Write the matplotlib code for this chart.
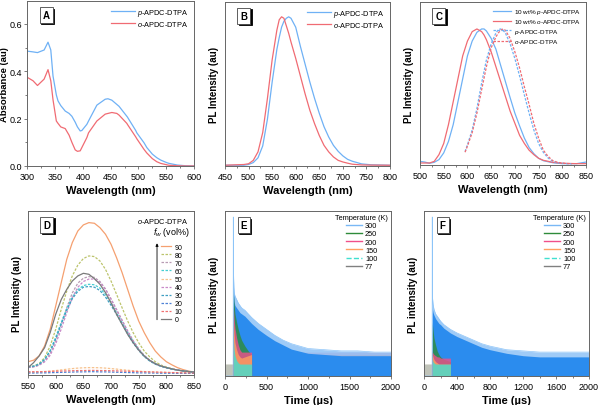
import numpy as np
import matplotlib
matplotlib.use('Agg')
import matplotlib.pyplot as plt
from matplotlib.transforms import offset_copy

plt.rcParams['font.family'] = ['Liberation Sans', 'DejaVu Sans']
plt.rcParams['mathtext.fontset'] = 'custom'
plt.rcParams['mathtext.it'] = 'Liberation Sans:italic'
plt.rcParams['mathtext.rm'] = 'Liberation Sans'

# ---- A: absorbance ----
wl_a = [300, 310, 318, 330, 337, 342, 346, 352, 355, 360, 368, 375, 380, 386, 390, 395, 398, 407, 410, 425, 440, 445, 452, 461, 465, 479, 480, 495, 497, 510, 515, 525, 533, 540, 551, 555, 570, 585, 600]
abs_p = [0.485, 0.482, 0.479, 0.49, 0.523, 0.49, 0.38, 0.30, 0.275, 0.255, 0.232, 0.222, 0.21, 0.185, 0.165, 0.148, 0.15, 0.176, 0.19, 0.257, 0.282, 0.284, 0.278, 0.26, 0.252, 0.21, 0.207, 0.15, 0.14, 0.098, 0.078, 0.05, 0.035, 0.025, 0.014, 0.011, 0.004, 0.001, 0.0]
abs_o = [0.374, 0.36, 0.34, 0.367, 0.407, 0.36, 0.28, 0.19, 0.18, 0.165, 0.158, 0.13, 0.1, 0.068, 0.062, 0.064, 0.078, 0.12, 0.14, 0.19, 0.219, 0.222, 0.226, 0.222, 0.215, 0.18, 0.176, 0.123, 0.115, 0.07, 0.055, 0.031, 0.018, 0.011, 0.005, 0.003, 0.001, 0.0, 0.0]

# ---- B: PL in solution ----
wl_b = [450, 490, 500, 510, 520, 530, 540, 550, 560, 565, 570, 575, 580, 585, 590, 600, 610, 620, 630, 640, 650, 660, 670, 680, 690, 700, 710, 720, 740, 760, 800]
pl_b_p = [0.0, 0.0, 0.005, 0.018, 0.05, 0.13, 0.31, 0.56, 0.78, 0.86, 0.93, 0.97, 0.99, 1.0, 0.99, 0.93, 0.80, 0.68, 0.56, 0.45, 0.35, 0.26, 0.19, 0.134, 0.094, 0.063, 0.04, 0.027, 0.009, 0.003, 0.0]
pl_b_o = [0.0, 0.005, 0.01, 0.033, 0.09, 0.22, 0.45, 0.71, 0.91, 0.98, 1.0, 0.99, 0.94, 0.89, 0.83, 0.72, 0.60, 0.48, 0.37, 0.28, 0.20, 0.134, 0.09, 0.056, 0.033, 0.022, 0.014, 0.007, 0.002, 0.001, 0.0]

# ---- C: PL of films ----
wl_c = [500, 510, 520, 530, 540, 550, 560, 570, 580, 590, 600, 610, 620, 630, 635, 640, 650, 660, 670, 680, 690, 700, 710, 720, 730, 740, 750, 760, 780, 800, 830, 850]
pl_c_p10 = [0.017, 0.012, 0.003, 0.01, 0.03, 0.08, 0.165, 0.29, 0.46, 0.63, 0.80, 0.91, 0.975, 1.0, 1.0, 0.985, 0.93, 0.85, 0.73, 0.61, 0.49, 0.375, 0.28, 0.19, 0.12, 0.074, 0.04, 0.022, 0.007, 0.0, 0.0, 0.012]
pl_c_o10 = [0.005, 0.005, 0.005, 0.017, 0.067, 0.15, 0.29, 0.46, 0.63, 0.80, 0.91, 0.98, 1.0, 0.98, 0.955, 0.92, 0.83, 0.72, 0.61, 0.50, 0.39, 0.30, 0.21, 0.15, 0.10, 0.067, 0.04, 0.025, 0.01, 0.003, 0.0, 0.0]
wl_c2 = [595, 600, 610, 620, 630, 640, 650, 660, 665, 670, 675, 680, 690, 700, 710, 720, 730, 740, 750, 760, 770, 780, 790, 800, 810, 820]
pl_c_p = [0.09, 0.14, 0.25, 0.41, 0.60, 0.77, 0.89, 0.97, 0.995, 1.0, 0.99, 0.97, 0.89, 0.78, 0.65, 0.51, 0.375, 0.25, 0.15, 0.084, 0.042, 0.017, 0.007, 0.003, 0.0, 0.0]
pl_c_o = [0.085, 0.13, 0.23, 0.375, 0.55, 0.72, 0.86, 0.94, 0.97, 0.99, 1.0, 0.99, 0.93, 0.83, 0.71, 0.57, 0.44, 0.30, 0.19, 0.10, 0.054, 0.022, 0.01, 0.004, 0.001, 0.0]

# ---- D: AIE, water fraction ----
wl_d = [550, 560, 570, 580, 590, 600, 610, 620, 630, 640, 650, 660, 670, 680, 690, 700, 710, 720, 730, 740, 750, 760, 770, 780, 790, 800, 810, 820, 830, 840, 850]
fw_labels = ['90', '80', '70', '60', '50', '40', '30', '20', '10', '0']
fw90 = [8.1, 9, 11.6, 17.7, 27.8, 42, 56.3, 70.5, 80.7, 87.8, 91.5, 92.9, 92.5, 89.8, 85.8, 79.7, 71.5, 62.4, 52.2, 42, 32.9, 25.8, 19.7, 14.6, 11, 8.1, 6.2, 4.5, 3.3, 2.4, 1.8]
fw80 = [4.9, 5.5, 7, 10.6, 17.7, 27.8, 40, 51.2, 60.4, 67, 71, 72.6, 72.2, 69.5, 64.4, 57.3, 49.2, 41, 33, 25.8, 19.7, 14.6, 11, 8.1, 6.1, 4.9, 3.9, 3, 2.4, 2, 1.8]
fw70 = [4.5, 5, 6, 8.5, 13, 21, 31, 41, 50, 56, 59, 60, 59.5, 57, 52.5, 46.5, 40, 33.5, 27, 21, 16, 12, 9, 7, 5.5, 4.5, 3.7, 3, 2.5, 2.1, 1.8]
fw60 = [4.9, 5.3, 6.5, 9.5, 15, 23, 32, 40.5, 47.5, 52, 54.5, 55.3, 55, 53, 49, 44, 38, 32, 26, 20.5, 15.5, 11.5, 8.8, 6.8, 5.4, 4.5, 3.7, 3, 2.5, 2.1, 1.8]
fw50 = [1.5, 1.6, 1.8, 2, 2.3, 2.7, 3.1, 3.5, 3.9, 4.2, 4.4, 4.5, 4.5, 4.4, 4.2, 3.9, 3.6, 3.2, 2.9, 2.6, 2.3, 2.1, 1.9, 1.7, 1.6, 1.5, 1.4, 1.3, 1.3, 1.2, 1.2]
fw40 = [4.5, 5, 6, 8, 12, 19, 28, 38, 47, 53.5, 57, 58.5, 58.5, 56.5, 52, 46, 39.5, 33, 26.5, 20.5, 15.5, 11.5, 8.8, 6.8, 5.4, 4.5, 3.7, 3, 2.5, 2.1, 1.8]
fw30 = [4.9, 5.3, 6.5, 9.5, 14.5, 22, 31, 39.5, 46.5, 51, 53.5, 54, 53.5, 51.5, 47.5, 42.5, 37, 31, 25, 19.5, 15, 11.2, 8.5, 6.6, 5.3, 4.4, 3.6, 3, 2.5, 2.1, 1.8]
fw20 = [1.2, 1.2, 1.3, 1.3, 1.4, 1.5, 1.6, 1.7, 1.8, 1.9, 1.9, 2.0, 2.0, 1.9, 1.9, 1.8, 1.7, 1.6, 1.5, 1.4, 1.3, 1.3, 1.2, 1.2, 1.1, 1.1, 1.1, 1.0, 1.0, 1.0, 1.0]
fw10 = [2.0, 2.0, 2.0, 2.1, 2.2, 2.3, 2.4, 2.5, 2.6, 2.7, 2.7, 2.8, 2.8, 2.7, 2.7, 2.6, 2.5, 2.4, 2.3, 2.2, 2.1, 2.0, 1.9, 1.8, 1.7, 1.6, 1.5, 1.4, 1.3, 1.3, 1.2]
fw0 = [4.5, 7.5, 11.6, 16.7, 25.8, 37, 46, 52.2, 57.3, 60.4, 62, 61.4, 58.7, 55.3, 50.2, 44, 37, 30.9, 24.8, 19.7, 15.2, 11.6, 8.9, 6.9, 5.5, 4.5, 3.7, 3, 2.5, 2.1, 1.8]

# ---- E, F: decays (counts) ----
temps = ['300', '250', '200', '150', '100', '77']
t_dec = [0, 90, 98, 100, 102, 110, 120, 140, 160, 180, 200, 240, 280, 320, 400, 500, 600, 700, 800, 1000, 1200, 1400, 1600, 1800, 2000]
E300_solid = [0, 0, 0, 13.3, 7.5, 6.2, 5.9, 5.7, 5.5, 5.3, 5.2, 5.0, 4.7, 4.4, 3.9, 3.4, 2.95, 2.6, 2.25, 1.9, 1.8, 1.7, 1.7, 1.7, 1.7]
E300_peak = [0, 0, 0, 13.3, 8.5, 7.0, 6.7, 6.4, 6.1, 5.9, 5.7, 5.5, 5.2, 4.9, 4.4, 3.9, 3.4, 3.0, 2.7, 2.3, 2.2, 2.1, 2.1, 2.0, 2.0]
E250 = [1, 1, 1, 7.8, 6.8, 6.0, 5.2, 4.5, 3.9, 3.4, 3.0, 2.5, 2.1, 1.8, 1.5, 1.3, 1.2, 1.2, 1.1, 1.1, 1.1, 1.1, 1.1, 1.1, 1.1]
E200 = [1, 1, 1, 5.8, 5.6, 4.8, 4.0, 3.2, 2.6, 2.2, 2.0, 2.0, 2.0, 2.0, 2.0, 2.0, 2.0, 2.0, 2.0, 2.0, 2.0, 2.0, 2.0, 2.0, 2.0]
E150 = [1, 1, 1, 4.8, 4.5, 3.5, 2.8, 2.2, 1.8, 1.6, 1.5, 1.6, 1.7, 1.8, 1.8, 1.8, 1.8, 1.8, 1.8, 1.8, 1.8, 1.8, 1.8, 1.8, 1.8]
E100 = [1, 1, 1, 3.5, 3.0, 2.2, 1.7, 1.3, 1.1, 1.0, 1.0, 1.0, 1.0, 1.0, 1.0, 1.0, 1.0, 1.0, 1.0, 1.0, 1.0, 1.0, 1.0, 1.0, 1.0]
E77 = [1, 1, 1, 4.0, 3.5, 2.6, 2.0, 1.6, 1.4, 1.3, 1.3, 1.3, 1.3, 1.3, 1.3, 1.3, 1.3, 1.3, 1.3, 1.3, 1.3, 1.3, 1.3, 1.3, 1.3]
F300_solid = [0, 0, 0, 13.3, 5.6, 5.3, 5.1, 4.8, 4.6, 4.4, 4.3, 4.0, 3.8, 3.6, 3.3, 3.0, 2.7, 2.4, 2.2, 1.9, 1.7, 1.6, 1.6, 1.6, 1.6]
F300_peak = [0, 0, 0, 13.3, 6.6, 6.0, 5.6, 5.2, 5.0, 4.8, 4.6, 4.3, 4.1, 3.9, 3.6, 3.3, 3.0, 2.7, 2.5, 2.2, 2.1, 2.0, 2.0, 2.0, 2.0]
F250 = [1, 1, 1, 4.5, 4.3, 3.8, 3.2, 2.6, 2.1, 1.8, 1.6, 1.4, 1.3, 1.2, 1.2, 1.2, 1.2, 1.2, 1.2, 1.2, 1.2, 1.2, 1.2, 1.2, 1.2]
F200 = [1, 1, 1, 2.2, 2.0, 1.9, 1.8, 1.7, 1.6, 1.6, 1.5, 1.5, 1.5, 1.5, 1.5, 1.5, 1.5, 1.5, 1.5, 1.5, 1.5, 1.5, 1.5, 1.5, 1.5]
F150 = [1, 1, 1, 2.0, 1.8, 1.6, 1.4, 1.2, 1.1, 1.0, 1.0, 1.0, 1.0, 1.0, 1.0, 1.0, 1.0, 1.0, 1.0, 1.0, 1.0, 1.0, 1.0, 1.0, 1.0]
F100 = [1, 1, 1, 1.6, 1.4, 1.2, 1.1, 1.0, 1.0, 1.0, 1.0, 1.0, 1.0, 1.0, 1.0, 1.0, 1.0, 1.0, 1.0, 1.0, 1.0, 1.0, 1.0, 1.0, 1.0]
F77 = [1, 1, 1, 2.0, 1.8, 1.5, 1.3, 1.2, 1.1, 1.0, 1.0, 1.0, 1.0, 1.0, 1.0, 1.0, 1.0, 1.0, 1.0, 1.0, 1.0, 1.0, 1.0, 1.0, 1.0]

blue = '#6fb1f5'
red = '#f06b73'
fw_colors = ['#f5a070', '#bcc46c', '#b89cb4', '#45cfd3', '#f7c28e', '#c98ac9', '#3f9fc2', '#4f82d6', '#f07272', '#7a7a7a']
t_colors = ['#2b8cee', '#2e8b3a', '#f0508a', '#ffa060', '#40e0d0', '#808080']
spine_c = '#666666'
ylab_size = 7

fig = plt.figure(figsize=(6, 4.06), dpi=100)
axA = fig.add_axes([0.0458, 0.5887, 0.2775, 0.4064])
axB = fig.add_axes([0.375, 0.5887, 0.275, 0.404])
axC = fig.add_axes([0.70, 0.5911, 0.2767, 0.4015])
axD = fig.add_axes([0.0467, 0.0739, 0.2767, 0.404])
axE = fig.add_axes([0.375, 0.0714, 0.2767, 0.4064])
axF = fig.add_axes([0.7067, 0.0714, 0.275, 0.4064])


def style(ax, letter):
    for s in ax.spines.values():
        s.set_color(spine_c)
        s.set_linewidth(0.7)
    ax.tick_params(which='both', direction='out', colors=spine_c, labelcolor='black',
                   labelsize=6.5, width=0.6, pad=1.5)
    ax.tick_params(which='major', length=2.5)
    ax.tick_params(which='minor', length=1.5)
    ax.xaxis.set_minor_locator(matplotlib.ticker.AutoMinorLocator(2))
    shadow = offset_copy(ax.transAxes, fig=fig, x=1.5, y=-1.5, units='dots')
    ax.text(0.113, 0.915, letter, transform=shadow, ha='center', va='center',
            fontsize=7, fontweight='bold', color='black',
            bbox=dict(boxstyle='square,pad=0.3', fc='black', ec='black', lw=0.6))
    ax.text(0.113, 0.915, letter, transform=ax.transAxes, ha='center', va='center',
            fontsize=7, fontweight='bold', color='black',
            bbox=dict(boxstyle='square,pad=0.3', fc='white', ec='#444444', lw=0.6))


# A
axA.plot(wl_a, abs_p, color=blue, lw=0.9, label=r'$p$-APDC-DTPA')
axA.plot(wl_a, abs_o, color=red, lw=0.9, label=r'$o$-APDC-DTPA')
axA.set_xlim(300, 600)
axA.set_ylim(0, 0.697)
axA.set_xticks([300, 350, 400, 450, 500, 550, 600])
axA.set_yticks([0.0, 0.2, 0.4, 0.6])
axA.yaxis.set_minor_locator(matplotlib.ticker.AutoMinorLocator(2))
axA.set_xlabel('Wavelength (nm)', fontsize=8, fontweight='bold', labelpad=3)
axA.set_ylabel('Absorbance (au)', fontsize=6.8, fontweight='bold')
axA.yaxis.set_label_coords(-0.108, 0.5)
axA.legend(loc='upper right', frameon=False, fontsize=5.3, handlelength=3.2,
           handletextpad=0.3, labelspacing=0.15, borderaxespad=0.4)
style(axA, 'A')
axA.tick_params(axis='y', pad=1)

# B
axB.plot(wl_b, pl_b_p, color=blue, lw=0.9, label=r'$p$-APDC-DTPA')
axB.plot(wl_b, pl_b_o, color=red, lw=0.9, label=r'$o$-APDC-DTPA')
axB.set_xlim(450, 800)
axB.set_ylim(-0.005, 1.1)
axB.set_xticks([450, 500, 550, 600, 650, 700, 750, 800])
axB.set_yticks([])
axB.set_xlabel('Wavelength (nm)', fontsize=8, fontweight='bold', labelpad=3)
axB.set_ylabel('PL Intensity (au)', fontsize=ylab_size, fontweight='bold', labelpad=4)
axB.legend(loc='upper right', frameon=False, fontsize=5.3, handlelength=3.2,
           handletextpad=0.3, labelspacing=0.15, borderaxespad=0.4)
style(axB, 'B')

# C
axC.plot(wl_c, pl_c_p10, color=blue, lw=0.9, label=r'10 wt% $p$-APDC-DTPA')
axC.plot(wl_c, pl_c_o10, color=red, lw=0.9, label=r'10 wt% $o$-APDC-DTPA')
axC.plot(wl_c2, pl_c_p, color=blue, lw=0.9, ls=(0, (2, 1.2)), label=r'$p$-APDC-DTPA')
axC.plot(wl_c2, pl_c_o, color=red, lw=0.9, ls=(0, (2, 1.2)), label=r'$o$-APDC-DTPA')
axC.set_xlim(500, 850)
axC.set_ylim(-0.01, 1.2)
axC.set_xticks([500, 550, 600, 650, 700, 750, 800, 850])
axC.set_yticks([])
axC.set_xlabel('Wavelength (nm)', fontsize=8, fontweight='bold', labelpad=3)
axC.set_ylabel('PL Intensity (au)', fontsize=ylab_size, fontweight='bold', labelpad=4)
axC.legend(loc='upper right', frameon=False, fontsize=4.6, handlelength=2.8,
           handletextpad=0.4, labelspacing=0.2, borderaxespad=0.4)
style(axC, 'C')

# D
fw_data = [fw90, fw80, fw70, fw60, fw50, fw40, fw30, fw20, fw10, fw0]
for lab, vals, c in zip(fw_labels, fw_data, fw_colors):
    ls = '-' if lab in ('90', '0') else (0, (2, 1.2))
    axD.plot(wl_d, vals, color=c, lw=0.9, ls=ls, label=lab)
axD.set_xlim(550, 850)
axD.set_ylim(0, 100)
axD.set_xticks([550, 600, 650, 700, 750, 800, 850])
axD.set_yticks([])
axD.set_xlabel('Wavelength (nm)', fontsize=8, fontweight='bold', labelpad=3)
axD.set_ylabel('PL Intensity (au)', fontsize=ylab_size, fontweight='bold', labelpad=4)
axD.legend(loc='upper left', bbox_to_anchor=(0.80, 0.80), frameon=False, fontsize=5,
           handlelength=1.5, handletextpad=0.5, labelspacing=0.15, borderaxespad=0, borderpad=0)
axD.text(0.965, 0.94, r'$o$-APDC-DTPA', transform=axD.transAxes, ha='right', va='center', fontsize=5.3)
axD.text(0.975, 0.873, r'$f_{w}$ (vol%)', transform=axD.transAxes, ha='right', va='center', fontsize=6.5)
axD.annotate('', xy=(0.777, 0.82), xytext=(0.777, 0.32), xycoords='axes fraction',
             arrowprops=dict(arrowstyle='-|>', lw=0.6, color='black', mutation_scale=4))
style(axD, 'D')


def decay(ax, solid, peak, others, xticks):
    t = np.array(t_dec)
    early = (t >= 100) & (t <= 320)
    # faint noise tint of the low-temperature traces
    for vals, c in zip(others, t_colors[1:]):
        ax.fill_between(t, 0, vals, color=c, alpha=0.15, lw=0)
    ax.fill_between(t, 0, peak, color=t_colors[0], alpha=0.45, lw=0)
    ax.fill_between(t, 0, solid, color=t_colors[0], lw=0)
    ax.plot(t, peak, color='#8cc4f8', lw=0.5)
    # early part of the fast decays, in front (gray first, behind the others)
    order = [4, 0, 1, 2, 3]
    for i in order:
        ax.fill_between(t, 0, others[i], where=early, color=t_colors[i + 1], alpha=0.8, lw=0)
    for lab, c in zip(temps, t_colors):
        ax.plot([], [], color=c if lab != '300' else '#7ab8f5', lw=1, label=lab,
                ls='--' if lab == '100' else '-')
    ax.set_xlim(0, 2000)
    ax.set_ylim(0, 13.8)
    ax.set_xticks(xticks)
    ax.set_yticks([])
    ax.set_xlabel('Time (\u00b5s)', fontsize=8, fontweight='bold', labelpad=3)
    ax.set_ylabel('PL intensity (au)', fontsize=ylab_size, fontweight='bold', labelpad=4)
    ax.legend(loc='upper right', frameon=False, fontsize=5.3, title='Temperature (K)',
              title_fontsize=5.3, handlelength=2.2, handletextpad=0.4, labelspacing=0.15,
              borderaxespad=0.2, borderpad=0.2)


decay(axE, E300_solid, E300_peak, [E250, E200, E150, E100, E77], [0, 500, 1000, 1500, 2000])
style(axE, 'E')
decay(axF, F300_solid, F300_peak, [F250, F200, F150, F100, F77], [0, 400, 800, 1200, 1600, 2000])
style(axF, 'F')

fig.savefig('out.png', dpi=100)
